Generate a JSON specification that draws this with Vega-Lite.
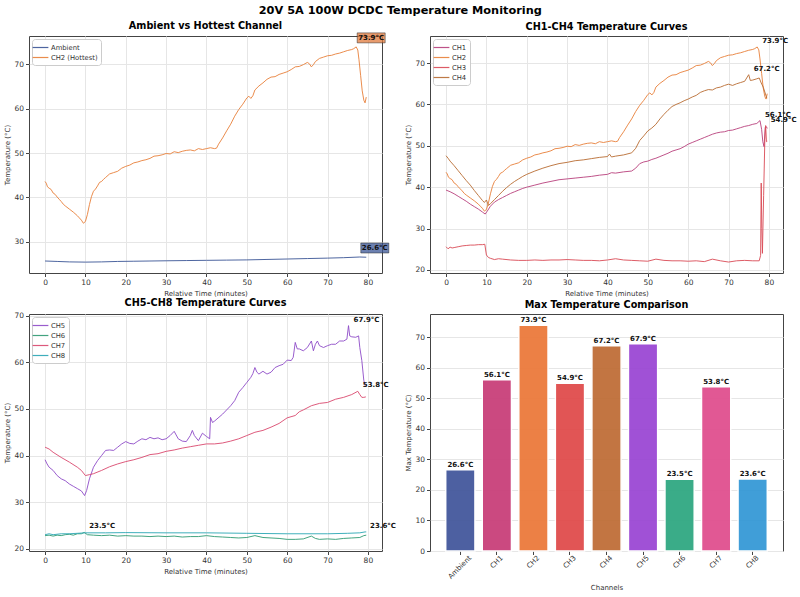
{
  "$schema": "https://vega.github.io/schema/vega-lite/v6.json",
  "title": {"text": "20V 5A 100W DCDC Temperature Monitoring", "fontSize": 11.3, "fontWeight": "bold", "anchor": "middle", "offset": 4, "color": "#000", "frame": "bounds"},
  "padding": {"left": 3, "top": 4, "right": 5, "bottom": 5},
  "background": "white",
  "resolve": {"scale": {"color": "independent", "fill": "independent"}, "legend": {"color": "independent"}},
  "config": {
    "font": "DejaVu Sans",
    "view": {"stroke": "#444", "strokeWidth": 1},
    "title": {"fontSize": 9.7, "fontWeight": "bold", "color": "#000", "offset": 4, "frame": "group"},
    "axis": {"labelFontSize": 7.5, "titleFontSize": 7, "titleFontWeight": "normal", "labelColor": "#333", "titleColor": "#333", "tickColor": "#444", "tickSize": 3.5, "domain": false, "gridColor": "#e6e6e6", "labelPadding": 2, "titlePadding": 3, "labelFlush": false, "labelOverlap": false},
    "legend": {"orient": "top-left", "offset": 3, "title": null, "labelFontSize": 6.8, "labelColor": "#333", "symbolType": "M-1.75,0H1.75", "symbolSize": 81, "symbolStrokeWidth": 1.2, "padding": 3, "strokeColor": "#cccccc", "fillColor": "white", "cornerRadius": 3, "rowPadding": 0, "labelOffset": 5}
  },
  "datasets": {
    "ts": [
      {"c":"Ambient","t":0,"v":25.7},{"c":"Ambient","t":3,"v":25.6},{"c":"Ambient","t":6,"v":25.5},{"c":"Ambient","t":10,"v":25.45},{"c":"Ambient","t":14,"v":25.5},{"c":"Ambient","t":18,"v":25.6},{"c":"Ambient","t":22,"v":25.65},{"c":"Ambient","t":26,"v":25.7},{"c":"Ambient","t":30,"v":25.75},{"c":"Ambient","t":35,"v":25.8},{"c":"Ambient","t":40,"v":25.85},{"c":"Ambient","t":45,"v":25.9},{"c":"Ambient","t":50,"v":25.95},{"c":"Ambient","t":55,"v":26.05},{"c":"Ambient","t":60,"v":26.15},{"c":"Ambient","t":65,"v":26.25},{"c":"Ambient","t":70,"v":26.35},{"c":"Ambient","t":74,"v":26.45},{"c":"Ambient","t":78,"v":26.6},{"c":"Ambient","t":79.6,"v":26.55},

      {"c":"CH2","t":0,"v":43.6},{"c":"CH2","t":0.3,"v":43.2},{"c":"CH2","t":0.6,"v":42.4},{"c":"CH2","t":1,"v":42.1},{"c":"CH2","t":1.5,"v":41.8},{"c":"CH2","t":2,"v":41.0},{"c":"CH2","t":2.5,"v":40.7},{"c":"CH2","t":3,"v":40.1},{"c":"CH2","t":3.5,"v":39.6},{"c":"CH2","t":4,"v":39.1},{"c":"CH2","t":4.5,"v":38.5},{"c":"CH2","t":5,"v":38.1},{"c":"CH2","t":6,"v":37.4},{"c":"CH2","t":7,"v":36.7},{"c":"CH2","t":8,"v":35.9},{"c":"CH2","t":8.5,"v":35.4},{"c":"CH2","t":9,"v":34.9},{"c":"CH2","t":9.5,"v":34.2},{"c":"CH2","t":10,"v":34.6},{"c":"CH2","t":10.5,"v":36.2},{"c":"CH2","t":11,"v":38.4},{"c":"CH2","t":11.5,"v":40.2},{"c":"CH2","t":12,"v":41.4},{"c":"CH2","t":12.5,"v":41.9},{"c":"CH2","t":13,"v":42.6},{"c":"CH2","t":13.5,"v":43.4},{"c":"CH2","t":14,"v":43.6},{"c":"CH2","t":14.5,"v":44.1},{"c":"CH2","t":15,"v":44.5},{"c":"CH2","t":16,"v":45.3},{"c":"CH2","t":17,"v":45.6},{"c":"CH2","t":18,"v":45.9},{"c":"CH2","t":19,"v":46.6},{"c":"CH2","t":20,"v":47.0},{"c":"CH2","t":21,"v":47.3},{"c":"CH2","t":22,"v":47.8},{"c":"CH2","t":23,"v":48.0},{"c":"CH2","t":24,"v":48.3},{"c":"CH2","t":25,"v":48.5},{"c":"CH2","t":26,"v":48.8},{"c":"CH2","t":27,"v":49.3},{"c":"CH2","t":28,"v":49.4},{"c":"CH2","t":29,"v":49.6},{"c":"CH2","t":30,"v":49.9},{"c":"CH2","t":31,"v":49.8},{"c":"CH2","t":32,"v":50.3},{"c":"CH2","t":33,"v":50.1},{"c":"CH2","t":34,"v":50.4},{"c":"CH2","t":35,"v":50.6},{"c":"CH2","t":36,"v":50.7},{"c":"CH2","t":37,"v":50.5},{"c":"CH2","t":38,"v":51.0},{"c":"CH2","t":39,"v":50.8},{"c":"CH2","t":40,"v":51.0},{"c":"CH2","t":41,"v":51.2},{"c":"CH2","t":42,"v":51.0},{"c":"CH2","t":42.5,"v":51.1},{"c":"CH2","t":43,"v":52.0},{"c":"CH2","t":44,"v":53.4},{"c":"CH2","t":45,"v":55.0},{"c":"CH2","t":46,"v":56.5},{"c":"CH2","t":47,"v":58.3},{"c":"CH2","t":48,"v":59.8},{"c":"CH2","t":49,"v":61.0},{"c":"CH2","t":50,"v":62.4},{"c":"CH2","t":50.5,"v":62.8},{"c":"CH2","t":51,"v":62.3},{"c":"CH2","t":51.5,"v":62.9},{"c":"CH2","t":52,"v":64.2},{"c":"CH2","t":53,"v":65.1},{"c":"CH2","t":54,"v":65.8},{"c":"CH2","t":55,"v":66.6},{"c":"CH2","t":56,"v":67.1},{"c":"CH2","t":57,"v":67.2},{"c":"CH2","t":58,"v":67.7},{"c":"CH2","t":59,"v":68.0},{"c":"CH2","t":60,"v":68.3},{"c":"CH2","t":61,"v":68.8},{"c":"CH2","t":62,"v":69.4},{"c":"CH2","t":63,"v":69.5},{"c":"CH2","t":64,"v":69.9},{"c":"CH2","t":65,"v":70.4},{"c":"CH2","t":65.5,"v":70.1},{"c":"CH2","t":66,"v":69.4},{"c":"CH2","t":66.5,"v":69.9},{"c":"CH2","t":67,"v":70.6},{"c":"CH2","t":68,"v":71.3},{"c":"CH2","t":69,"v":71.6},{"c":"CH2","t":70,"v":71.9},{"c":"CH2","t":71,"v":72.0},{"c":"CH2","t":72,"v":72.3},{"c":"CH2","t":73,"v":72.5},{"c":"CH2","t":74,"v":72.8},{"c":"CH2","t":75,"v":73.1},{"c":"CH2","t":76,"v":73.3},{"c":"CH2","t":76.5,"v":73.5},{"c":"CH2","t":77.1,"v":73.9},{"c":"CH2","t":77.5,"v":73.2},{"c":"CH2","t":77.8,"v":71.0},{"c":"CH2","t":78.2,"v":67.5},{"c":"CH2","t":78.6,"v":64.0},{"c":"CH2","t":79,"v":61.9},{"c":"CH2","t":79.3,"v":61.3},{"c":"CH2","t":79.6,"v":62.6},

      {"c":"CH4","t":0,"v":47.6},{"c":"CH4","t":0.5,"v":47.0},{"c":"CH4","t":1,"v":46.3},{"c":"CH4","t":2,"v":45.2},{"c":"CH4","t":3,"v":44.0},{"c":"CH4","t":4,"v":42.8},{"c":"CH4","t":5,"v":41.6},{"c":"CH4","t":6,"v":40.5},{"c":"CH4","t":7,"v":39.2},{"c":"CH4","t":8,"v":38.0},{"c":"CH4","t":9,"v":36.8},{"c":"CH4","t":9.5,"v":36.3},{"c":"CH4","t":10,"v":36.9},{"c":"CH4","t":10.5,"v":35.6},{"c":"CH4","t":11,"v":36.0},{"c":"CH4","t":12,"v":37.0},{"c":"CH4","t":13,"v":38.0},{"c":"CH4","t":14,"v":39.0},{"c":"CH4","t":15,"v":39.9},{"c":"CH4","t":16,"v":40.7},{"c":"CH4","t":17,"v":41.4},{"c":"CH4","t":18,"v":42.0},{"c":"CH4","t":19,"v":42.6},{"c":"CH4","t":20,"v":43.1},{"c":"CH4","t":22,"v":43.9},{"c":"CH4","t":24,"v":44.6},{"c":"CH4","t":26,"v":45.2},{"c":"CH4","t":28,"v":45.7},{"c":"CH4","t":30,"v":46.0},{"c":"CH4","t":32,"v":46.4},{"c":"CH4","t":34,"v":46.6},{"c":"CH4","t":36,"v":46.9},{"c":"CH4","t":38,"v":47.2},{"c":"CH4","t":40,"v":47.4},{"c":"CH4","t":40.5,"v":48.0},{"c":"CH4","t":41,"v":47.3},{"c":"CH4","t":42,"v":47.5},{"c":"CH4","t":44,"v":47.8},{"c":"CH4","t":46,"v":48.3},{"c":"CH4","t":47,"v":49.4},{"c":"CH4","t":48,"v":51.3},{"c":"CH4","t":49,"v":52.4},{"c":"CH4","t":50,"v":53.6},{"c":"CH4","t":51,"v":54.3},{"c":"CH4","t":52,"v":55.2},{"c":"CH4","t":53,"v":56.5},{"c":"CH4","t":54,"v":57.6},{"c":"CH4","t":55,"v":58.6},{"c":"CH4","t":56,"v":59.5},{"c":"CH4","t":57,"v":60.0},{"c":"CH4","t":58,"v":60.4},{"c":"CH4","t":59,"v":60.9},{"c":"CH4","t":60,"v":61.3},{"c":"CH4","t":61,"v":61.8},{"c":"CH4","t":62,"v":62.2},{"c":"CH4","t":63,"v":62.9},{"c":"CH4","t":64,"v":63.3},{"c":"CH4","t":65,"v":63.6},{"c":"CH4","t":66,"v":63.5},{"c":"CH4","t":67,"v":64.0},{"c":"CH4","t":68,"v":64.2},{"c":"CH4","t":69,"v":64.6},{"c":"CH4","t":70,"v":64.9},{"c":"CH4","t":71,"v":64.6},{"c":"CH4","t":72,"v":65.0},{"c":"CH4","t":73,"v":65.3},{"c":"CH4","t":74,"v":65.6},{"c":"CH4","t":75,"v":67.2},{"c":"CH4","t":75.4,"v":65.8},{"c":"CH4","t":76,"v":65.9},{"c":"CH4","t":77,"v":66.2},{"c":"CH4","t":77.6,"v":66.4},{"c":"CH4","t":78.1,"v":65.2},{"c":"CH4","t":78.6,"v":64.2},{"c":"CH4","t":79,"v":63.0},{"c":"CH4","t":79.5,"v":61.5},

      {"c":"CH1","t":0,"v":39.3},{"c":"CH1","t":1,"v":38.9},{"c":"CH1","t":2,"v":38.4},{"c":"CH1","t":3,"v":37.8},{"c":"CH1","t":4,"v":37.2},{"c":"CH1","t":5,"v":36.6},{"c":"CH1","t":6,"v":35.9},{"c":"CH1","t":7,"v":35.3},{"c":"CH1","t":8,"v":34.7},{"c":"CH1","t":9,"v":34.0},{"c":"CH1","t":9.7,"v":33.5},{"c":"CH1","t":10.2,"v":34.2},{"c":"CH1","t":11,"v":35.4},{"c":"CH1","t":12,"v":36.4},{"c":"CH1","t":13,"v":37.0},{"c":"CH1","t":14,"v":37.5},{"c":"CH1","t":15,"v":38.0},{"c":"CH1","t":16,"v":38.5},{"c":"CH1","t":17,"v":38.9},{"c":"CH1","t":18,"v":39.3},{"c":"CH1","t":19,"v":39.7},{"c":"CH1","t":20,"v":40.0},{"c":"CH1","t":22,"v":40.5},{"c":"CH1","t":24,"v":41.0},{"c":"CH1","t":26,"v":41.4},{"c":"CH1","t":28,"v":41.8},{"c":"CH1","t":30,"v":42.0},{"c":"CH1","t":32,"v":42.2},{"c":"CH1","t":34,"v":42.4},{"c":"CH1","t":36,"v":42.6},{"c":"CH1","t":38,"v":42.9},{"c":"CH1","t":40,"v":43.1},{"c":"CH1","t":41,"v":43.5},{"c":"CH1","t":42,"v":43.4},{"c":"CH1","t":44,"v":43.7},{"c":"CH1","t":46,"v":43.9},{"c":"CH1","t":47,"v":44.6},{"c":"CH1","t":48,"v":45.7},{"c":"CH1","t":49,"v":46.1},{"c":"CH1","t":50,"v":46.3},{"c":"CH1","t":51,"v":46.7},{"c":"CH1","t":52,"v":47.0},{"c":"CH1","t":53,"v":47.4},{"c":"CH1","t":54,"v":47.8},{"c":"CH1","t":55,"v":48.2},{"c":"CH1","t":56,"v":48.7},{"c":"CH1","t":57,"v":49.0},{"c":"CH1","t":58,"v":49.3},{"c":"CH1","t":59,"v":49.8},{"c":"CH1","t":60,"v":50.4},{"c":"CH1","t":61,"v":50.8},{"c":"CH1","t":62,"v":51.2},{"c":"CH1","t":63,"v":51.6},{"c":"CH1","t":64,"v":52.0},{"c":"CH1","t":65,"v":52.4},{"c":"CH1","t":66,"v":52.8},{"c":"CH1","t":67,"v":53.1},{"c":"CH1","t":68,"v":53.3},{"c":"CH1","t":69,"v":53.4},{"c":"CH1","t":70,"v":53.7},{"c":"CH1","t":71,"v":53.8},{"c":"CH1","t":72,"v":54.1},{"c":"CH1","t":73,"v":54.4},{"c":"CH1","t":74,"v":54.7},{"c":"CH1","t":75,"v":54.9},{"c":"CH1","t":76,"v":55.2},{"c":"CH1","t":77,"v":55.4},{"c":"CH1","t":77.8,"v":56.1},{"c":"CH1","t":78.2,"v":54.0},{"c":"CH1","t":78.5,"v":51.0},{"c":"CH1","t":78.8,"v":49.8},{"c":"CH1","t":79.1,"v":54.5},{"c":"CH1","t":79.4,"v":54.6},{"c":"CH1","t":79.6,"v":54.2},

      {"c":"CH3","t":0,"v":25.6},{"c":"CH3","t":0.5,"v":25.1},{"c":"CH3","t":1,"v":25.5},{"c":"CH3","t":1.5,"v":25.3},{"c":"CH3","t":2,"v":25.4},{"c":"CH3","t":3,"v":25.6},{"c":"CH3","t":4,"v":25.8},{"c":"CH3","t":5,"v":25.9},{"c":"CH3","t":6,"v":26.0},{"c":"CH3","t":7,"v":26.0},{"c":"CH3","t":8,"v":26.1},{"c":"CH3","t":9,"v":26.1},{"c":"CH3","t":9.6,"v":26.2},{"c":"CH3","t":10,"v":23.6},{"c":"CH3","t":10.5,"v":23.0},{"c":"CH3","t":11,"v":22.8},{"c":"CH3","t":12,"v":22.5},{"c":"CH3","t":13,"v":22.7},{"c":"CH3","t":14,"v":22.6},{"c":"CH3","t":16,"v":22.4},{"c":"CH3","t":18,"v":22.3},{"c":"CH3","t":20,"v":22.3},{"c":"CH3","t":22,"v":22.4},{"c":"CH3","t":24,"v":22.3},{"c":"CH3","t":26,"v":22.4},{"c":"CH3","t":28,"v":22.4},{"c":"CH3","t":30,"v":22.5},{"c":"CH3","t":32,"v":22.4},{"c":"CH3","t":34,"v":22.3},{"c":"CH3","t":36,"v":22.3},{"c":"CH3","t":38,"v":22.2},{"c":"CH3","t":40,"v":22.4},{"c":"CH3","t":42,"v":22.7},{"c":"CH3","t":44,"v":22.4},{"c":"CH3","t":46,"v":22.3},{"c":"CH3","t":48,"v":22.2},{"c":"CH3","t":50,"v":22.1},{"c":"CH3","t":52,"v":22.6},{"c":"CH3","t":54,"v":22.3},{"c":"CH3","t":56,"v":22.2},{"c":"CH3","t":58,"v":22.2},{"c":"CH3","t":60,"v":22.1},{"c":"CH3","t":62,"v":22.2},{"c":"CH3","t":64,"v":22.0},{"c":"CH3","t":66,"v":22.6},{"c":"CH3","t":68,"v":22.2},{"c":"CH3","t":70,"v":21.9},{"c":"CH3","t":72,"v":22.2},{"c":"CH3","t":74,"v":22.3},{"c":"CH3","t":76,"v":22.2},{"c":"CH3","t":77.6,"v":22.2},{"c":"CH3","t":77.95,"v":23.5},{"c":"CH3","t":78.1,"v":41.0},{"c":"CH3","t":78.25,"v":30.0},{"c":"CH3","t":78.4,"v":24.0},{"c":"CH3","t":78.7,"v":38.0},{"c":"CH3","t":79,"v":51.5},{"c":"CH3","t":79.2,"v":54.9},{"c":"CH3","t":79.4,"v":51.0},{"c":"CH3","t":79.6,"v":51.1},

      {"c":"CH5","t":0,"v":39.1},{"c":"CH5","t":0.5,"v":38.2},{"c":"CH5","t":1,"v":37.5},{"c":"CH5","t":2,"v":36.8},{"c":"CH5","t":3,"v":35.7},{"c":"CH5","t":4,"v":35.0},{"c":"CH5","t":5,"v":34.6},{"c":"CH5","t":6,"v":33.9},{"c":"CH5","t":7,"v":33.4},{"c":"CH5","t":8,"v":32.9},{"c":"CH5","t":9,"v":32.4},{"c":"CH5","t":9.8,"v":31.4},{"c":"CH5","t":10.3,"v":32.5},{"c":"CH5","t":11,"v":35.0},{"c":"CH5","t":12,"v":37.5},{"c":"CH5","t":13,"v":38.9},{"c":"CH5","t":14,"v":40.0},{"c":"CH5","t":15,"v":41.1},{"c":"CH5","t":16,"v":41.2},{"c":"CH5","t":17,"v":41.1},{"c":"CH5","t":18,"v":41.8},{"c":"CH5","t":19,"v":42.5},{"c":"CH5","t":20,"v":43.0},{"c":"CH5","t":21,"v":42.6},{"c":"CH5","t":22,"v":42.5},{"c":"CH5","t":23,"v":43.1},{"c":"CH5","t":24,"v":43.6},{"c":"CH5","t":25,"v":43.4},{"c":"CH5","t":26,"v":43.9},{"c":"CH5","t":27,"v":43.6},{"c":"CH5","t":28,"v":43.8},{"c":"CH5","t":29,"v":43.4},{"c":"CH5","t":30,"v":43.6},{"c":"CH5","t":31,"v":44.3},{"c":"CH5","t":32,"v":45.2},{"c":"CH5","t":33,"v":43.6},{"c":"CH5","t":34,"v":43.1},{"c":"CH5","t":35,"v":43.0},{"c":"CH5","t":36,"v":44.3},{"c":"CH5","t":36.5,"v":45.4},{"c":"CH5","t":37,"v":44.3},{"c":"CH5","t":38,"v":43.2},{"c":"CH5","t":39,"v":44.8},{"c":"CH5","t":40,"v":44.1},{"c":"CH5","t":40.8,"v":43.6},{"c":"CH5","t":41,"v":48.2},{"c":"CH5","t":41.5,"v":47.1},{"c":"CH5","t":42,"v":47.4},{"c":"CH5","t":44,"v":48.9},{"c":"CH5","t":46,"v":50.7},{"c":"CH5","t":47,"v":51.8},{"c":"CH5","t":48,"v":53.6},{"c":"CH5","t":49,"v":54.6},{"c":"CH5","t":50,"v":55.7},{"c":"CH5","t":51,"v":56.8},{"c":"CH5","t":51.5,"v":57.6},{"c":"CH5","t":52,"v":58.9},{"c":"CH5","t":52.5,"v":57.9},{"c":"CH5","t":53,"v":57.5},{"c":"CH5","t":54,"v":58.1},{"c":"CH5","t":55,"v":57.5},{"c":"CH5","t":56,"v":57.9},{"c":"CH5","t":57,"v":58.9},{"c":"CH5","t":58,"v":59.3},{"c":"CH5","t":59,"v":59.6},{"c":"CH5","t":60,"v":60.5},{"c":"CH5","t":61,"v":60.4},{"c":"CH5","t":61.5,"v":61.1},{"c":"CH5","t":62,"v":64.3},{"c":"CH5","t":62.5,"v":62.9},{"c":"CH5","t":63,"v":62.9},{"c":"CH5","t":64,"v":62.5},{"c":"CH5","t":65,"v":63.2},{"c":"CH5","t":66,"v":64.6},{"c":"CH5","t":66.5,"v":62.5},{"c":"CH5","t":67,"v":63.9},{"c":"CH5","t":67.5,"v":64.6},{"c":"CH5","t":68,"v":63.6},{"c":"CH5","t":69,"v":63.2},{"c":"CH5","t":70,"v":63.6},{"c":"CH5","t":71,"v":63.9},{"c":"CH5","t":72,"v":63.9},{"c":"CH5","t":73,"v":64.6},{"c":"CH5","t":74,"v":64.6},{"c":"CH5","t":74.8,"v":65.0},{"c":"CH5","t":75.2,"v":67.9},{"c":"CH5","t":75.5,"v":65.7},{"c":"CH5","t":76,"v":65.5},{"c":"CH5","t":77,"v":65.4},{"c":"CH5","t":77.7,"v":65.7},{"c":"CH5","t":78,"v":63.2},{"c":"CH5","t":78.5,"v":60.4},{"c":"CH5","t":79,"v":56.1},{"c":"CH5","t":79.3,"v":55.0},

      {"c":"CH7","t":0,"v":41.8},{"c":"CH7","t":1,"v":41.4},{"c":"CH7","t":2,"v":40.7},{"c":"CH7","t":4,"v":39.6},{"c":"CH7","t":6,"v":38.6},{"c":"CH7","t":8,"v":37.5},{"c":"CH7","t":9,"v":36.8},{"c":"CH7","t":10,"v":35.7},{"c":"CH7","t":11,"v":35.9},{"c":"CH7","t":12,"v":36.1},{"c":"CH7","t":14,"v":36.8},{"c":"CH7","t":16,"v":37.6},{"c":"CH7","t":18,"v":38.2},{"c":"CH7","t":20,"v":38.7},{"c":"CH7","t":22,"v":39.1},{"c":"CH7","t":24,"v":39.6},{"c":"CH7","t":26,"v":40.2},{"c":"CH7","t":28,"v":40.4},{"c":"CH7","t":30,"v":40.9},{"c":"CH7","t":32,"v":41.2},{"c":"CH7","t":34,"v":41.6},{"c":"CH7","t":36,"v":41.9},{"c":"CH7","t":38,"v":42.2},{"c":"CH7","t":40,"v":42.5},{"c":"CH7","t":42,"v":42.5},{"c":"CH7","t":44,"v":42.7},{"c":"CH7","t":46,"v":43.1},{"c":"CH7","t":48,"v":43.6},{"c":"CH7","t":50,"v":44.3},{"c":"CH7","t":52,"v":45.0},{"c":"CH7","t":54,"v":45.4},{"c":"CH7","t":56,"v":46.1},{"c":"CH7","t":58,"v":46.9},{"c":"CH7","t":60,"v":48.1},{"c":"CH7","t":62,"v":48.6},{"c":"CH7","t":63,"v":49.4},{"c":"CH7","t":64,"v":49.8},{"c":"CH7","t":66,"v":50.7},{"c":"CH7","t":68,"v":51.2},{"c":"CH7","t":70,"v":51.4},{"c":"CH7","t":72,"v":52.1},{"c":"CH7","t":74,"v":52.5},{"c":"CH7","t":76,"v":53.1},{"c":"CH7","t":77.5,"v":53.8},{"c":"CH7","t":78,"v":53.1},{"c":"CH7","t":78.5,"v":52.5},{"c":"CH7","t":79,"v":52.5},{"c":"CH7","t":79.5,"v":52.6},

      {"c":"CH6","t":0,"v":22.8},{"c":"CH6","t":1,"v":22.9},{"c":"CH6","t":2,"v":22.7},{"c":"CH6","t":3,"v":22.9},{"c":"CH6","t":4,"v":22.8},{"c":"CH6","t":5,"v":23.0},{"c":"CH6","t":6,"v":23.1},{"c":"CH6","t":7,"v":22.9},{"c":"CH6","t":8,"v":23.2},{"c":"CH6","t":9,"v":23.2},{"c":"CH6","t":9.7,"v":23.5},{"c":"CH6","t":10.5,"v":23.0},{"c":"CH6","t":12,"v":22.9},{"c":"CH6","t":14,"v":22.8},{"c":"CH6","t":16,"v":22.9},{"c":"CH6","t":18,"v":22.7},{"c":"CH6","t":20,"v":22.8},{"c":"CH6","t":22,"v":22.7},{"c":"CH6","t":24,"v":22.7},{"c":"CH6","t":26,"v":22.6},{"c":"CH6","t":28,"v":22.7},{"c":"CH6","t":30,"v":22.6},{"c":"CH6","t":32,"v":22.7},{"c":"CH6","t":34,"v":22.5},{"c":"CH6","t":36,"v":22.6},{"c":"CH6","t":38,"v":22.6},{"c":"CH6","t":40,"v":22.8},{"c":"CH6","t":42,"v":22.6},{"c":"CH6","t":44,"v":22.5},{"c":"CH6","t":46,"v":22.4},{"c":"CH6","t":48,"v":22.3},{"c":"CH6","t":50,"v":22.4},{"c":"CH6","t":52,"v":22.8},{"c":"CH6","t":54,"v":22.4},{"c":"CH6","t":56,"v":22.3},{"c":"CH6","t":58,"v":22.2},{"c":"CH6","t":60,"v":22.0},{"c":"CH6","t":62,"v":22.0},{"c":"CH6","t":64,"v":22.1},{"c":"CH6","t":66,"v":22.7},{"c":"CH6","t":67,"v":22.2},{"c":"CH6","t":68,"v":22.0},{"c":"CH6","t":70,"v":22.1},{"c":"CH6","t":72,"v":22.0},{"c":"CH6","t":74,"v":22.2},{"c":"CH6","t":76,"v":22.3},{"c":"CH6","t":78,"v":22.4},{"c":"CH6","t":79,"v":22.8},{"c":"CH6","t":79.6,"v":22.9},

      {"c":"CH8","t":0,"v":23.0},{"c":"CH8","t":1,"v":23.2},{"c":"CH8","t":2,"v":23.0},{"c":"CH8","t":4,"v":23.2},{"c":"CH8","t":6,"v":23.2},{"c":"CH8","t":8,"v":23.3},{"c":"CH8","t":10,"v":23.4},{"c":"CH8","t":15,"v":23.4},{"c":"CH8","t":20,"v":23.45},{"c":"CH8","t":30,"v":23.4},{"c":"CH8","t":40,"v":23.4},{"c":"CH8","t":50,"v":23.3},{"c":"CH8","t":60,"v":23.2},{"c":"CH8","t":70,"v":23.2},{"c":"CH8","t":75,"v":23.3},{"c":"CH8","t":78,"v":23.4},{"c":"CH8","t":79.3,"v":23.6},{"c":"CH8","t":79.6,"v":23.6}
    ],
    "peaks": [
      {"c":"Ambient","t":78,"v":26.6,"label":"26.6°C"},
      {"c":"CH1","t":77.8,"v":56.1,"label":"56.1°C"},
      {"c":"CH2","t":77.1,"v":73.9,"label":"73.9°C"},
      {"c":"CH3","t":79.2,"v":54.9,"label":"54.9°C"},
      {"c":"CH4","t":75,"v":67.2,"label":"67.2°C"},
      {"c":"CH5","t":75.2,"v":67.9,"label":"67.9°C"},
      {"c":"CH6","t":9.7,"v":23.5,"label":"23.5°C"},
      {"c":"CH7","t":77.5,"v":53.8,"label":"53.8°C"},
      {"c":"CH8","t":79.3,"v":23.6,"label":"23.6°C"}
    ]
  },
  "columns": 2,
  "spacing": {"row": 41, "column": 48},
  "bounds": "flush",
  "concat": [
    {
      "width": 353, "height": 237,
      "title": {"text": "Ambient vs Hottest Channel", "offset": 1},
      "encoding": {
        "x": {"field": "t", "type": "quantitative", "scale": {"domain": [-3.98, 83.5], "nice": false, "zero": false}, "axis": {"values": [0,10,20,30,40,50,60,70,80], "title": "Relative Time (minutes)"}},
        "y": {"field": "v", "type": "quantitative", "scale": {"domain": [23.0, 76.35], "nice": false, "zero": false}, "axis": {"values": [30,40,50,60,70], "title": "Temperature (°C)"}}
      },
      "layer": [
        {
          "data": {"name": "ts"},
          "transform": [{"filter": {"field": "c", "oneOf": ["Ambient", "CH2"]}}],
          "mark": {"type": "line", "strokeWidth": 1, "opacity": 0.9},
          "encoding": {
            "color": {"field": "c", "type": "nominal", "scale": {"domain": ["Ambient", "CH2"], "range": ["#3b5596", "#e8803a"]}, "legend": {"labelExpr": "datum.label == 'CH2' ? 'CH2 (Hottest)' : datum.label"}}
          }
        },
        {
          "data": {"name": "peaks"},
          "transform": [{"filter": {"field": "c", "oneOf": ["Ambient", "CH2"]}}],
          "mark": {"type": "point", "shape": "M1,-14H29V-4H1Z", "size": 4, "filled": true, "fillOpacity": 0.75, "stroke": "#222", "strokeOpacity": 0.6, "strokeWidth": 0.8},
          "encoding": {
            "fill": {"field": "c", "type": "nominal", "scale": {"domain": ["Ambient", "CH2"], "range": ["#3b5596", "#e07a3c"]}, "legend": null}
          }
        },
        {
          "data": {"name": "peaks"},
          "transform": [{"filter": {"field": "c", "oneOf": ["Ambient", "CH2"]}}],
          "mark": {"type": "text", "align": "center", "baseline": "middle", "dx": 15, "dy": -9, "fontSize": 7, "fontWeight": "bold", "color": "#111"},
          "encoding": {"text": {"field": "label"}}
        }
      ]
    },
    {
      "width": 353, "height": 237,
      "title": "CH1-CH4 Temperature Curves",
      "encoding": {
        "x": {"field": "t", "type": "quantitative", "scale": {"domain": [-3.98, 83.5], "nice": false, "zero": false}, "axis": {"values": [0,10,20,30,40,50,60,70,80], "title": "Relative Time (minutes)"}},
        "y": {"field": "v", "type": "quantitative", "scale": {"domain": [19.25, 76.55], "nice": false, "zero": false}, "axis": {"values": [20,30,40,50,60,70], "title": "Temperature (°C)"}}
      },
      "layer": [
        {
          "data": {"name": "ts"},
          "transform": [{"filter": {"field": "c", "oneOf": ["CH1", "CH2", "CH3", "CH4"]}}],
          "mark": {"type": "line", "strokeWidth": 1, "opacity": 0.9},
          "encoding": {
            "color": {"field": "c", "type": "nominal", "scale": {"domain": ["CH1", "CH2", "CH3", "CH4"], "range": ["#b8407c", "#e8803a", "#d94a55", "#b86c32"]}}
          }
        },
        {
          "data": {"name": "peaks"},
          "transform": [{"filter": {"field": "c", "oneOf": ["CH1", "CH2", "CH3", "CH4"]}}],
          "mark": {"type": "text", "align": "left", "baseline": "middle", "dx": 5, "dy": -6, "fontSize": 7, "fontWeight": "bold", "color": "#111"},
          "encoding": {"text": {"field": "label"}}
        }
      ]
    },
    {
      "width": 353, "height": 237,
      "title": "CH5-CH8 Temperature Curves",
      "encoding": {
        "x": {"field": "t", "type": "quantitative", "scale": {"domain": [-3.98, 83.5], "nice": false, "zero": false}, "axis": {"values": [0,10,20,30,40,50,60,70,80], "title": "Relative Time (minutes)"}},
        "y": {"field": "v", "type": "quantitative", "scale": {"domain": [19.5, 70.4], "nice": false, "zero": false}, "axis": {"values": [20,30,40,50,60,70], "title": "Temperature (°C)"}}
      },
      "layer": [
        {
          "data": {"name": "ts"},
          "transform": [{"filter": {"field": "c", "oneOf": ["CH5", "CH6", "CH7", "CH8"]}}],
          "mark": {"type": "line", "strokeWidth": 1, "opacity": 0.9},
          "encoding": {
            "color": {"field": "c", "type": "nominal", "scale": {"domain": ["CH5", "CH6", "CH7", "CH8"], "range": ["#8e4bc8", "#2e9a72", "#d9486e", "#2aa6b4"]}}
          }
        },
        {
          "data": {"name": "peaks"},
          "transform": [{"filter": {"field": "c", "oneOf": ["CH5", "CH6", "CH7", "CH8"]}}],
          "mark": {"type": "text", "align": "left", "baseline": "middle", "dx": 5, "dy": -6, "fontSize": 7, "fontWeight": "bold", "color": "#111"},
          "encoding": {"text": {"field": "label"}}
        }
      ]
    },
    {
      "width": 353, "height": 237,
      "title": "Max Temperature Comparison",
      "data": {"name": "peaks"},
      "encoding": {
        "x": {"field": "c", "type": "nominal", "sort": null, "scale": {"paddingInner": 0.2, "paddingOuter": 0.43}, "axis": {"title": "Channels", "labelAngle": -45, "labelAlign": "right", "labelBaseline": "middle", "labelFontSize": 7, "labelOffset": {"condition": {"test": "datum.label == 'Ambient'", "value": 10}, "value": 5}, "grid": false, "titlePadding": 4}},
        "y": {"field": "v", "type": "quantitative", "scale": {"domain": [0, 77.6], "nice": false}, "axis": {"values": [0,10,20,30,40,50,60,70], "title": "Max Temperature (°C)"}}
      },
      "layer": [
        {
          "mark": {"type": "bar", "stroke": "white", "strokeWidth": 1.5, "opacity": 0.95},
          "encoding": {
            "color": {"field": "c", "type": "nominal", "scale": {"domain": ["Ambient","CH1","CH2","CH3","CH4","CH5","CH6","CH7","CH8"], "range": ["#44589c","#c9407a","#ec7a3c","#e04c4c","#bf6e38","#9b48d4","#30a882","#e0508f","#3699d6"]}, "legend": null}
          }
        },
        {
          "mark": {"type": "text", "align": "center", "baseline": "bottom", "dy": -2, "fontSize": 7, "fontWeight": "bold", "color": "#111"},
          "encoding": {"text": {"field": "label"}}
        }
      ]
    }
  ]
}
